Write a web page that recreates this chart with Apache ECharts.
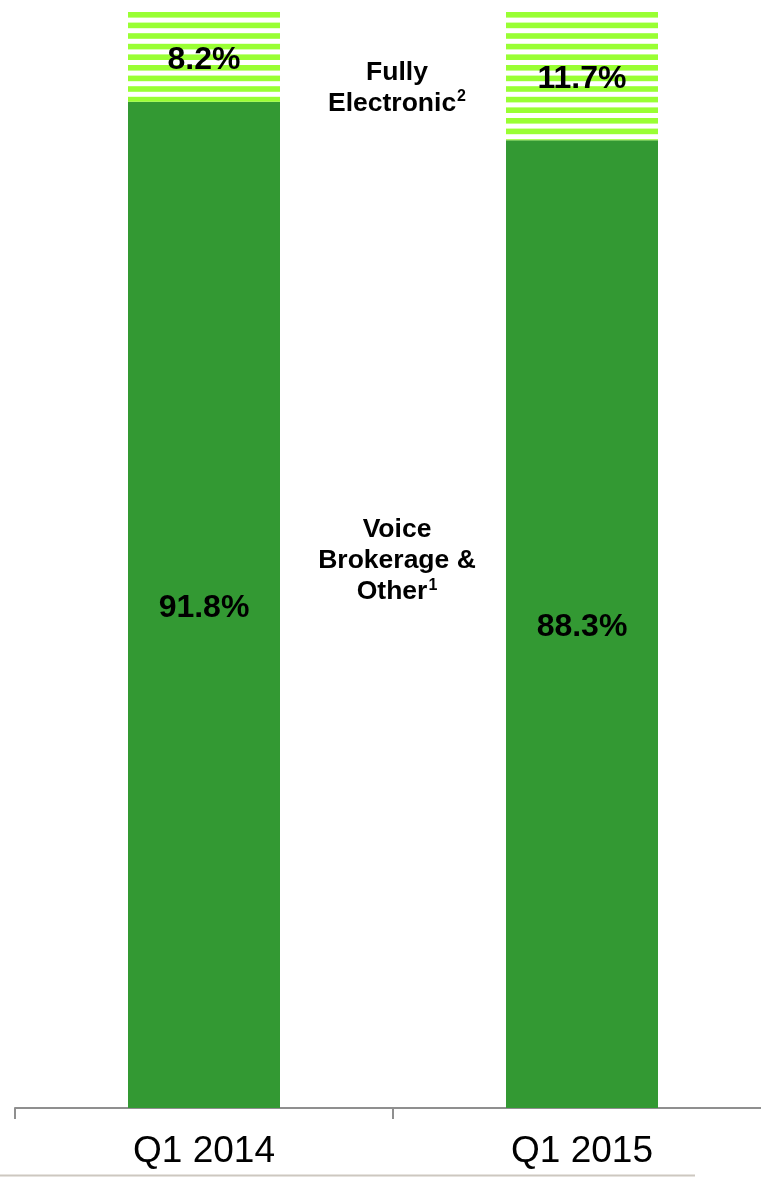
<!DOCTYPE html>
<html>
<head>
<meta charset="utf-8">
<style>
  html, body { margin: 0; padding: 0; background: #fff; }
  #chart { width: 761px; height: 1177px; }
</style>
<script src="https://cdn.jsdelivr.net/npm/echarts@6/dist/echarts.min.js"></script>
</head>
<body>
<div id="chart"></div>
<script>
// Revenue mix by quarter (percent of total)
const categories = ['Q1 2014', 'Q1 2015'];
const voiceOther = [91.8, 88.3];
const fullyElectronic = [8.2, 11.7];

const FONT = '"Liberation Sans", Arial, Helvetica, sans-serif';
const DARK_GREEN = '#339933';
const LIME = '#99ff33';

// Horizontal lime stripes on white for the electronic segment
function stripePattern() {
  const period = 10.6, h = period * 5, phase = 12, thick = 5.6;
  const c = document.createElement('canvas');
  c.width = 8; c.height = Math.round(h);
  const ctx = c.getContext('2d');
  ctx.fillStyle = '#ffffff';
  ctx.fillRect(0, 0, c.width, c.height);
  ctx.fillStyle = LIME;
  for (let k = 0; k < 5; k++) {
    const y = (phase + k * period) % c.height;
    ctx.fillRect(0, y, c.width, thick);
    if (y + thick > c.height) ctx.fillRect(0, y - c.height, c.width, thick);
  }
  return { image: c, repeat: 'repeat' };
}

const chart = echarts.init(document.getElementById('chart'), null, { renderer: 'canvas' });

const valueLabel = {
  show: true,
  position: 'inside',
  offset: [0, 3],
  color: '#000',
  fontFamily: FONT,
  fontWeight: 'bold',
  fontSize: 32,
  formatter: p => p.value.toFixed(1) + '%'
};

chart.setOption({
  animation: false,
  backgroundColor: '#fff',
  // the plot runs slightly past the right edge of the page
  grid: { left: 15, width: 756, top: 12, bottom: 69, containLabel: false, outerBoundsMode: 'none' },
  xAxis: {
    type: 'category',
    data: categories,
    axisLine: { show: true, lineStyle: { color: '#8f8f8f', width: 2 } },
    axisTick: { show: true, length: 11, lineStyle: { color: '#8f8f8f', width: 2 } },
    axisLabel: { color: '#000', fontFamily: FONT, fontSize: 37, margin: 25 },
    splitLine: { show: false }
  },
  yAxis: {
    type: 'value', min: 0, max: 100, show: false
  },
  series: [
    {
      name: 'Voice Brokerage & Other',
      type: 'bar',
      stack: 'mix',
      barWidth: 152,
      data: voiceOther,
      itemStyle: { color: DARK_GREEN },
      label: valueLabel
    },
    {
      name: 'Fully Electronic',
      type: 'bar',
      stack: 'mix',
      barWidth: 152,
      data: fullyElectronic,
      itemStyle: { color: stripePattern() },
      label: valueLabel
    }
  ]
});

// Segment captions between the two bars
const midX = (chart.convertToPixel({ xAxisIndex: 0 }, categories[0]) +
              chart.convertToPixel({ xAxisIndex: 0 }, categories[1])) / 2 + 4;
const rich = {
  b: { fontFamily: FONT, fontWeight: 'bold', fontSize: 26.5, lineHeight: 31, color: '#000' },
  s: { fontFamily: FONT, fontWeight: 'bold', fontSize: 16, lineHeight: 31, color: '#000', verticalAlign: 'top', padding: [1, 0, 0, 1] }
};
chart.setOption({
  graphic: [
    {
      type: 'text', x: midX, y: 88,
      style: { text: '{b|Fully}\n{b|Electronic}{s|2}', rich, align: 'center', verticalAlign: 'middle' }
    },
    {
      type: 'text', x: midX, y: 561,
      style: { text: '{b|Voice}\n{b|Brokerage &}\n{b|Other}{s|1}', rich, align: 'center', verticalAlign: 'middle' }
    },
    {
      type: 'line', shape: { x1: 0, y1: 1175.5, x2: 695, y2: 1175.5 },
      style: { stroke: '#cdc8c0', lineWidth: 2 }
    }
  ]
});
</script>
</body>
</html>
